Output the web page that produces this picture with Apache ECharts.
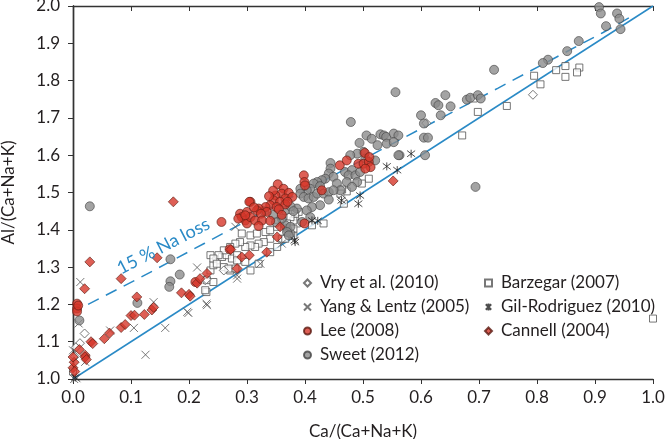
<!DOCTYPE html>
<html><head><meta charset="utf-8">
<script src="https://cdn.jsdelivr.net/npm/echarts@6/dist/echarts.min.js"></script>
<style>html,body{margin:0;padding:0;background:#fff}#c{width:666px;height:439px}</style>
</head><body><div id="c"></div>
<script>
const xTicks = [0,0.1,0.2,0.3,0.4,0.5,0.6,0.7,0.8,0.9,1.0];
const yTicks = [1.0,1.1,1.2,1.3,1.4,1.5,1.6,1.7,1.8,1.9,2.0];
const oneToOne = [[0,1],[1,2]];
const naLoss15 = [[0.026,1.2],[0.116,1.272],[0.227,1.364],[0.335,1.453],[0.44,1.538],[0.54,1.622],[0.638,1.702],[0.733,1.78],[0.825,1.856],[0.914,1.929],[0.966,1.975]];

const vry = [[0.02,1.122],[0.012,1.096],[0.005,1.085],[0.003,1.06],[0.228,1.265],[0.26,1.291],[0.23,1.267],[0.609,1.686],[0.793,1.762],[0.464,1.481]];
const yang = [[0.0126,1.26],[0.0097,1.149],[0,1.077],[0.125,1.065],[0.159,1.137],[0.105,1.137],[0.064,1.13],[0.139,1.206],[0.197,1.18],[0.021,1.046],[0.002,1.0],[0.006,1.002],[0.28,1.408],[0.214,1.299],[0.231,1.198],[0.199,1.177],[0.23,1.202],[0.283,1.278],[0.323,1.309],[0.36,1.363],[0.283,1.269]];
const lee = [[0.007,1.202],[0.007,1.189],[0.007,1.181],[0.009,1.197],[0.256,1.421],[0.27,1.348],[0.211,1.26],
 [0.353,1.522],[0.363,1.51],[0.36,1.497],[0.349,1.492],[0.372,1.499],[0.366,1.484],[0.378,1.488],[0.346,1.479],[0.357,1.475],[0.34,1.466],[0.351,1.461],[0.366,1.468],[0.332,1.461],[0.32,1.457],[0.317,1.452],[0.306,1.475],[0.334,1.448],[0.324,1.443],[0.288,1.443],[0.30,1.448],[0.291,1.434],[0.297,1.425],[0.30,1.417],[0.306,1.434],[0.314,1.425],[0.326,1.425],[0.34,1.424],[0.304,1.475],
 [0.398,1.546],[0.399,1.528],[0.40,1.519],[0.46,1.573],[0.472,1.586],[0.492,1.577],[0.501,1.577],[0.51,1.582],[0.513,1.568],[0.504,1.564],[0.503,1.606],[0.511,1.595],[0.399,1.417],[0.429,1.506],[0.345,1.505],[0.338,1.49],[0.355,1.455],[0.37,1.475],[0.312,1.46],[0.285,1.43],[0.32,1.41],[0.36,1.44],[0.297,1.439]];
const sweet = [[0.029,1.463],[0.011,1.157],[0.111,1.204],[0.168,1.321],[0.184,1.28],[0.168,1.262],[0.166,1.247],
 [0.366,1.452],[0.386,1.457],[0.375,1.463],[0.369,1.403],[0.375,1.39],[0.366,1.412],[0.33,1.45],[0.345,1.44],[0.36,1.43],[0.35,1.42],[0.38,1.45],
 [0.479,1.689],[0.506,1.653],[0.515,1.644],[0.53,1.656],[0.536,1.653],[0.54,1.649],[0.553,1.658],[0.561,1.653],[0.494,1.633],[0.525,1.627],[0.541,1.631],[0.553,1.635],[0.563,1.6],[0.501,1.609],[0.49,1.604],[0.478,1.6],[0.504,1.591],[0.521,1.586],[0.444,1.579],[0.444,1.564],[0.441,1.551],[0.449,1.542],[0.435,1.537],[0.429,1.533],[0.421,1.528],[0.415,1.524],[0.426,1.517],[0.409,1.51],[0.403,1.506],[0.392,1.51],[0.392,1.497],[0.398,1.488],[0.406,1.484],[0.415,1.488],[0.421,1.497],[0.432,1.497],[0.441,1.501],[0.441,1.481],[0.426,1.466],[0.412,1.461],[0.403,1.452],[0.409,1.434],[0.395,1.421],[0.375,1.408],[0.369,1.394],[0.372,1.385],[0.469,1.555],[0.481,1.56],[0.475,1.546],[0.487,1.546],[0.495,1.555],[0.472,1.528],[0.49,1.528],[0.481,1.515],[0.455,1.524],[0.461,1.506],[0.449,1.506],
 [0.726,1.829],[0.556,1.769],[0.642,1.761],[0.625,1.74],[0.63,1.734],[0.651,1.731],[0.679,1.749],[0.685,1.754],[0.698,1.761],[0.703,1.752],[0.60,1.707],[0.634,1.707],[0.605,1.685],[0.605,1.647],[0.612,1.647],[0.561,1.60],[0.607,1.60],[0.694,1.515],
 [0.907,1.997],[0.91,1.98],[0.938,1.98],[0.942,1.966],[0.919,1.946],[0.944,1.938],[0.872,1.906],[0.852,1.879],[0.819,1.856],[0.81,1.847]];
const barzegar = [[0,1.02],[1.0,1.162],[0.23,1.233],
 [0.237,1.332],[0.247,1.318],[0.257,1.327],[0.265,1.332],[0.274,1.323],[0.283,1.332],[0.237,1.291],[0.231,1.265],[0.228,1.238],[0.26,1.30],[0.271,1.291],[0.28,1.296],[0.242,1.305],
 [0.291,1.39],[0.306,1.385],[0.317,1.39],[0.332,1.394],[0.34,1.399],[0.352,1.408],[0.366,1.417],[0.383,1.434],[0.389,1.448],[0.386,1.417],[0.372,1.39],[0.36,1.376],[0.34,1.376],[0.329,1.367],[0.32,1.363],[0.314,1.354],[0.306,1.358],[0.297,1.354],[0.288,1.367],[0.28,1.363],[0.271,1.354],[0.26,1.345],[0.251,1.332],[0.242,1.323],[0.248,1.309],[0.242,1.26],[0.268,1.296],[0.283,1.318],[0.297,1.314],[0.306,1.291],[0.32,1.309],[0.34,1.34],[0.352,1.354],[0.366,1.376],[0.38,1.385],
 [0.51,1.537],[0.498,1.524],[0.472,1.503],[0.464,1.508],[0.461,1.497],[0.467,1.47],[0.432,1.417],[0.412,1.412],[0.38,1.425],[0.383,1.443],[0.375,1.434],[0.36,1.425],[0.369,1.417],[0.38,1.403],
 [0.698,1.716],[0.748,1.732],[0.671,1.653],[0.691,1.752],[0.849,1.839],[0.873,1.835],[0.833,1.828],[0.869,1.822],[0.849,1.81],[0.795,1.813],[0.806,1.79]];
const gilRodriguez = [[0.004,1.004],[0.541,1.57],[0.559,1.56],[0.583,1.604],[0.495,1.492],[0.492,1.47],[0.463,1.479],[0.412,1.425],[0.422,1.424],[0.382,1.372],[0.383,1.367]];
const cannell = [[0,1.03],[0.002,1.045],[0.003,1.02],[0,1.059],[0.021,1.064],[0.011,1.079],[0.021,1.059],[0.023,1.052],[0.031,1.10],[0.034,1.095],[0.054,1.108],[0.063,1.123],[0.083,1.138],[0.09,1.146],[0.10,1.17],[0.106,1.171],[0.123,1.173],[0.11,1.22],[0.136,1.185],[0.139,1.192],[0.187,1.231],[0.2,1.227],[0.202,1.222],[0.214,1.257],[0.219,1.269],[0.231,1.283],[0.020,1.242],[0.029,1.314],[0.083,1.269],[0.145,1.325],[0.173,1.475],[0.272,1.347],[0.291,1.327],[0.304,1.332],[0.283,1.296],[0.334,1.34],[0.352,1.381],[0.357,1.408],[0.552,1.531]];

const FONT = 'Lato';
const FS = 17;
const TXT = '#231f20';
const BLUE = '#2a8ac6';
const xPath = 'path://M0,0L10,10M10,0L0,10';
const astPath = 'path://M0,0L10,10M10,0L0,10M5,-1.5L5,11.5';

const chart = echarts.init(document.getElementById('c'), null, {renderer:'canvas'});
const axCommon = {
  type:'value', min:0, max:1, interval:0.1,
  axisLine:{show:true, lineStyle:{color:'#333', width:1.4}},
  splitLine:{show:false}
};
const legText = {fontFamily:FONT, fontSize:FS, color:TXT, lineHeight:20, padding:[0,0,0,4]};
chart.setOption({
  animation:false,
  grid:{left:73, right:13, top:6, bottom:60, containLabel:false, outerBoundsMode:'none'},
  xAxis:[
    Object.assign({}, axCommon, {position:'bottom', name:'Ca/(Ca+Na+K)', nameLocation:'middle', nameGap:44,
      nameTextStyle:{fontFamily:FONT, fontSize:FS, color:TXT},
      axisTick:{show:true, inside:false, length:5, lineStyle:{color:'#333'}},
      axisLabel:{fontFamily:FONT, fontSize:FS, color:TXT, margin:10, formatter:v=>v.toFixed(1)}}),
    Object.assign({}, axCommon, {position:'top', axisTick:{show:true, inside:true, length:5, lineStyle:{color:'#333'}}, axisLabel:{show:false}})
  ],
  yAxis:[
    {type:'value', min:1, max:2, interval:0.1, position:'left',
      name:'Al/(Ca+Na+K)', nameLocation:'middle', nameGap:56, nameRotate:90,
      nameTextStyle:{fontFamily:FONT, fontSize:FS, color:TXT},
      axisLine:{show:true, lineStyle:{color:'#333', width:1.4}}, splitLine:{show:false},
      axisTick:{show:true, inside:false, length:5, lineStyle:{color:'#333'}},
      axisLabel:{fontFamily:FONT, fontSize:FS, color:TXT, margin:13, formatter:v=>v.toFixed(1)}},
    {type:'value', min:1, max:2, interval:0.1, position:'right',
      axisLine:{show:true, lineStyle:{color:'#333', width:1.4}}, splitLine:{show:false},
      axisTick:{show:true, inside:true, length:5, lineStyle:{color:'#333'}}, axisLabel:{show:false}}
  ],
  legend:[
    {data:[{name:'Vry et al. (2010)', icon:'diamond'},{name:'Yang & Lentz (2005)', icon:xPath},{name:'Lee (2008)', icon:'circle'},{name:'Sweet (2012)', icon:'circle'}],
     orient:'vertical', left:298, top:268, itemWidth:7, itemHeight:7, itemGap:4, textStyle:legText},
    {data:[{name:'Barzegar (2007)', icon:'rect'},{name:'Gil-Rodriguez (2010)', icon:astPath},{name:'Cannell (2004)', icon:'diamond'}],
     orient:'vertical', left:479, top:268, itemWidth:7, itemHeight:7, itemGap:4, textStyle:legText}
  ],
  series:[
    {name:'1:1', type:'line', data:oneToOne, symbol:'none', lineStyle:{color:BLUE, width:1.5}, z:1, silent:true},
    {name:'15% Na loss', type:'line', data:naLoss15, symbol:'none', smooth:false, lineStyle:{color:BLUE, width:1.5, type:[12,8]}, z:1, silent:true},
    {name:'Barzegar (2007)', type:'scatter', data:barzegar, symbol:'rect', symbolSize:7,
      itemStyle:{color:'#fff', borderColor:'#555', borderWidth:1}, z:2},
    {name:'Yang & Lentz (2005)', type:'scatter', data:yang, symbol:xPath, symbolSize:8,
      itemStyle:{color:'rgba(0,0,0,0)', borderColor:'#555', borderWidth:1}, z:2},
    {name:'Vry et al. (2010)', type:'scatter', data:vry, symbol:'diamond', symbolSize:9,
      itemStyle:{color:'#fff', borderColor:'#555', borderWidth:1}, z:2},
    {name:'Sweet (2012)', type:'scatter', data:sweet, symbol:'circle', symbolSize:9,
      itemStyle:{color:'#8c8c8c', borderColor:'#444', borderWidth:0.8}, z:3},
    {name:'Lee (2008)', type:'scatter', data:lee, symbol:'circle', symbolSize:9,
      itemStyle:{color:'#d6372b', borderColor:'#5a1a12', borderWidth:0.8}, z:3},
    {name:'Gil-Rodriguez (2010)', type:'scatter', data:gilRodriguez, symbol:astPath, symbolSize:8,
      itemStyle:{color:'rgba(0,0,0,0)', borderColor:'#222', borderWidth:1}, z:4},
    {name:'Cannell (2004)', type:'scatter', data:cannell, symbol:'diamond', symbolSize:10,
      itemStyle:{color:'#d6372b', borderColor:'#5a1a12', borderWidth:0.8}, z:4}
  ]
});
const p = chart.convertToPixel({xAxisIndex:0, yAxisIndex:0}, [0.156, 1.356]);
chart.setOption({graphic:[{type:'text', x:p[0], y:p[1], rotation:0.48,
  style:{text:'15 % Na loss', fill:BLUE, fontFamily:FONT, fontSize:18, align:'center', verticalAlign:'middle'}, z:10}]});
</script></body></html>
